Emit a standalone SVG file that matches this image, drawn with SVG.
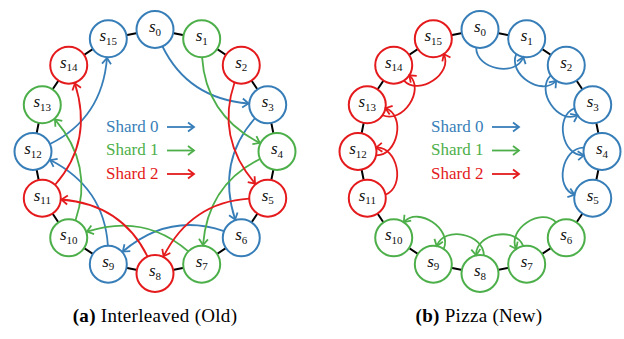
<svg xmlns="http://www.w3.org/2000/svg" width="624" height="339" viewBox="0 0 624 339">
<style>
.n{fill:#fff;stroke-width:2}
.b{stroke:#377eb8}.g{stroke:#4daf4a}.r{stroke:#e41a1c}
text{font-family:'Liberation Serif','DejaVu Serif',serif}
.lbl{font-size:17px;fill:#111;text-anchor:middle}
.lbl .s{font-style:italic}
.lbl .i{font-size:11px}
.e{fill:none;stroke-width:1.8}
.ring{fill:none;stroke:#000;stroke-width:2}
.leg{font-size:17px}
.cap{font-size:19px;letter-spacing:0.3px;fill:#000;text-anchor:middle}
</style>
<defs>
<marker id="mb" viewBox="-8 -6 10 12" refX="0" refY="0" markerWidth="10" markerHeight="12" orient="auto" markerUnits="userSpaceOnUse"><path d="M-6,-4.5 L0,0 L-6,4.5" fill="none" stroke="#377eb8" stroke-width="1.8"/></marker>
<marker id="mg" viewBox="-8 -6 10 12" refX="0" refY="0" markerWidth="10" markerHeight="12" orient="auto" markerUnits="userSpaceOnUse"><path d="M-6,-4.5 L0,0 L-6,4.5" fill="none" stroke="#4daf4a" stroke-width="1.8"/></marker>
<marker id="mr" viewBox="-8 -6 10 12" refX="0" refY="0" markerWidth="10" markerHeight="12" orient="auto" markerUnits="userSpaceOnUse"><path d="M-6,-4.5 L0,0 L-6,4.5" fill="none" stroke="#e41a1c" stroke-width="1.8"/></marker>
</defs>

<g id="ring-lines">
<polygon class="ring" points="155,29.5 201.69,38.79 241.27,65.23 267.71,104.81 277,151.5 267.71,198.19 241.27,237.77 201.69,264.21 155,273.5 108.31,264.21 68.73,237.77 42.29,198.19 33,151.5 42.29,104.81 68.73,65.23 108.31,38.79"/>
<polygon class="ring" points="480,29.5 526.69,38.79 566.27,65.23 592.71,104.81 602,151.5 592.71,198.19 566.27,237.77 526.69,264.21 480,273.5 433.31,264.21 393.73,237.77 367.29,198.19 358,151.5 367.29,104.81 393.73,65.23 433.31,38.79"/>
</g>

<g id="a-s0"><circle class="n b" cx="155" cy="29.5" r="18.5"/><text class="lbl" x="155" y="32"><tspan class="s">s</tspan><tspan class="i" dy="3.5">0</tspan></text></g>
<g id="a-s1"><circle class="n g" cx="201.69" cy="38.79" r="18.5"/><text class="lbl" x="201.69" y="41.3"><tspan class="s">s</tspan><tspan class="i" dy="3.5">1</tspan></text></g>
<g id="a-s2"><circle class="n r" cx="241.27" cy="65.23" r="18.5"/><text class="lbl" x="241.27" y="67.7"><tspan class="s">s</tspan><tspan class="i" dy="3.5">2</tspan></text></g>
<g id="a-s3"><circle class="n b" cx="267.71" cy="104.81" r="18.5"/><text class="lbl" x="267.71" y="107.3"><tspan class="s">s</tspan><tspan class="i" dy="3.5">3</tspan></text></g>
<g id="a-s4"><circle class="n g" cx="277" cy="151.5" r="18.5"/><text class="lbl" x="277" y="154"><tspan class="s">s</tspan><tspan class="i" dy="3.5">4</tspan></text></g>
<g id="a-s5"><circle class="n r" cx="267.71" cy="198.19" r="18.5"/><text class="lbl" x="267.71" y="200.7"><tspan class="s">s</tspan><tspan class="i" dy="3.5">5</tspan></text></g>
<g id="a-s6"><circle class="n b" cx="241.27" cy="237.77" r="18.5"/><text class="lbl" x="241.27" y="240.3"><tspan class="s">s</tspan><tspan class="i" dy="3.5">6</tspan></text></g>
<g id="a-s7"><circle class="n g" cx="201.69" cy="264.21" r="18.5"/><text class="lbl" x="201.69" y="266.7"><tspan class="s">s</tspan><tspan class="i" dy="3.5">7</tspan></text></g>
<g id="a-s8"><circle class="n r" cx="155" cy="273.5" r="18.5"/><text class="lbl" x="155" y="276"><tspan class="s">s</tspan><tspan class="i" dy="3.5">8</tspan></text></g>
<g id="a-s9"><circle class="n b" cx="108.31" cy="264.21" r="18.5"/><text class="lbl" x="108.31" y="266.7"><tspan class="s">s</tspan><tspan class="i" dy="3.5">9</tspan></text></g>
<g id="a-s10"><circle class="n g" cx="68.73" cy="237.77" r="18.5"/><text class="lbl" x="68.73" y="240.3"><tspan class="s">s</tspan><tspan class="i" dy="3.5">10</tspan></text></g>
<g id="a-s11"><circle class="n r" cx="42.29" cy="198.19" r="18.5"/><text class="lbl" x="42.29" y="200.7"><tspan class="s">s</tspan><tspan class="i" dy="3.5">11</tspan></text></g>
<g id="a-s12"><circle class="n b" cx="33" cy="151.5" r="18.5"/><text class="lbl" x="33" y="154"><tspan class="s">s</tspan><tspan class="i" dy="3.5">12</tspan></text></g>
<g id="a-s13"><circle class="n g" cx="42.29" cy="104.81" r="18.5"/><text class="lbl" x="42.29" y="107.3"><tspan class="s">s</tspan><tspan class="i" dy="3.5">13</tspan></text></g>
<g id="a-s14"><circle class="n r" cx="68.73" cy="65.23" r="18.5"/><text class="lbl" x="68.73" y="67.7"><tspan class="s">s</tspan><tspan class="i" dy="3.5">14</tspan></text></g>
<g id="a-s15"><circle class="n b" cx="108.31" cy="38.79" r="18.5"/><text class="lbl" x="108.31" y="41.3"><tspan class="s">s</tspan><tspan class="i" dy="3.5">15</tspan></text></g>

<g id="b-s0"><circle class="n b" cx="480" cy="29.5" r="18.5"/><text class="lbl" x="480" y="32"><tspan class="s">s</tspan><tspan class="i" dy="3.5">0</tspan></text></g>
<g id="b-s1"><circle class="n b" cx="526.69" cy="38.79" r="18.5"/><text class="lbl" x="526.69" y="41.3"><tspan class="s">s</tspan><tspan class="i" dy="3.5">1</tspan></text></g>
<g id="b-s2"><circle class="n b" cx="566.27" cy="65.23" r="18.5"/><text class="lbl" x="566.27" y="67.7"><tspan class="s">s</tspan><tspan class="i" dy="3.5">2</tspan></text></g>
<g id="b-s3"><circle class="n b" cx="592.71" cy="104.81" r="18.5"/><text class="lbl" x="592.71" y="107.3"><tspan class="s">s</tspan><tspan class="i" dy="3.5">3</tspan></text></g>
<g id="b-s4"><circle class="n b" cx="602" cy="151.5" r="18.5"/><text class="lbl" x="602" y="154"><tspan class="s">s</tspan><tspan class="i" dy="3.5">4</tspan></text></g>
<g id="b-s5"><circle class="n b" cx="592.71" cy="198.19" r="18.5"/><text class="lbl" x="592.71" y="200.7"><tspan class="s">s</tspan><tspan class="i" dy="3.5">5</tspan></text></g>
<g id="b-s6"><circle class="n g" cx="566.27" cy="237.77" r="18.5"/><text class="lbl" x="566.27" y="240.3"><tspan class="s">s</tspan><tspan class="i" dy="3.5">6</tspan></text></g>
<g id="b-s7"><circle class="n g" cx="526.69" cy="264.21" r="18.5"/><text class="lbl" x="526.69" y="266.7"><tspan class="s">s</tspan><tspan class="i" dy="3.5">7</tspan></text></g>
<g id="b-s8"><circle class="n g" cx="480" cy="273.5" r="18.5"/><text class="lbl" x="480" y="276"><tspan class="s">s</tspan><tspan class="i" dy="3.5">8</tspan></text></g>
<g id="b-s9"><circle class="n g" cx="433.31" cy="264.21" r="18.5"/><text class="lbl" x="433.31" y="266.7"><tspan class="s">s</tspan><tspan class="i" dy="3.5">9</tspan></text></g>
<g id="b-s10"><circle class="n g" cx="393.73" cy="237.77" r="18.5"/><text class="lbl" x="393.73" y="240.3"><tspan class="s">s</tspan><tspan class="i" dy="3.5">10</tspan></text></g>
<g id="b-s11"><circle class="n r" cx="367.29" cy="198.19" r="18.5"/><text class="lbl" x="367.29" y="200.7"><tspan class="s">s</tspan><tspan class="i" dy="3.5">11</tspan></text></g>
<g id="b-s12"><circle class="n r" cx="358" cy="151.5" r="18.5"/><text class="lbl" x="358" y="154"><tspan class="s">s</tspan><tspan class="i" dy="3.5">12</tspan></text></g>
<g id="b-s13"><circle class="n r" cx="367.29" cy="104.81" r="18.5"/><text class="lbl" x="367.29" y="107.3"><tspan class="s">s</tspan><tspan class="i" dy="3.5">13</tspan></text></g>
<g id="b-s14"><circle class="n r" cx="393.73" cy="65.23" r="18.5"/><text class="lbl" x="393.73" y="67.7"><tspan class="s">s</tspan><tspan class="i" dy="3.5">14</tspan></text></g>
<g id="b-s15"><circle class="n r" cx="433.31" cy="38.79" r="18.5"/><text class="lbl" x="433.31" y="41.3"><tspan class="s">s</tspan><tspan class="i" dy="3.5">15</tspan></text></g>

<g id="connectors">
<path class="e b" marker-end="url(#mb)" d="M162.5,46.5 C178,78 205,100 248.5,103.5"/>
<path class="e b" marker-end="url(#mb)" d="M162.5,46.5 C178,78 205,100 248.5,103.5" transform="rotate(67.5 155 151.5)"/>
<path class="e b" marker-end="url(#mb)" d="M162.5,46.5 C178,78 205,100 248.5,103.5" transform="rotate(135 155 151.5)"/>
<path class="e b" marker-end="url(#mb)" d="M162.5,46.5 C178,78 205,100 248.5,103.5" transform="rotate(202.5 155 151.5)"/>
<path class="e b" marker-end="url(#mb)" d="M162.5,46.5 C178,78 205,100 248.5,103.5" transform="rotate(270 155 151.5)"/>
<path class="e g" marker-end="url(#mg)" d="M162.5,46.5 C178,78 205,100 248.5,103.5" transform="rotate(22.5 155 151.5)"/>
<path class="e g" marker-end="url(#mg)" d="M162.5,46.5 C178,78 205,100 248.5,103.5" transform="rotate(90 155 151.5)"/>
<path class="e g" marker-end="url(#mg)" d="M162.5,46.5 C178,78 205,100 248.5,103.5" transform="rotate(157.5 155 151.5)"/>
<path class="e g" marker-end="url(#mg)" d="M162.5,46.5 C178,78 205,100 248.5,103.5" transform="rotate(225 155 151.5)"/>
<path class="e r" marker-end="url(#mr)" d="M162.5,46.5 C178,78 205,100 248.5,103.5" transform="rotate(45 155 151.5)"/>
<path class="e r" marker-end="url(#mr)" d="M162.5,46.5 C178,78 205,100 248.5,103.5" transform="rotate(112.5 155 151.5)"/>
<path class="e r" marker-end="url(#mr)" d="M162.5,46.5 C178,78 205,100 248.5,103.5" transform="rotate(180 155 151.5)"/>
<path class="e r" marker-end="url(#mr)" d="M162.5,46.5 C178,78 205,100 248.5,103.5" transform="rotate(247.5 155 151.5)"/>
<path class="e b" marker-end="url(#mb)" d="M476.2,47.6 C475.9,69.5 516.2,77.5 523.3,57"/>
<path class="e b" marker-end="url(#mb)" d="M476.2,47.6 C475.9,69.5 516.2,77.5 523.3,57" transform="rotate(22.5 480 151.5)"/>
<path class="e b" marker-end="url(#mb)" d="M476.2,47.6 C475.9,69.5 516.2,77.5 523.3,57" transform="rotate(45 480 151.5)"/>
<path class="e b" marker-end="url(#mb)" d="M476.2,47.6 C475.9,69.5 516.2,77.5 523.3,57" transform="rotate(67.5 480 151.5)"/>
<path class="e b" marker-end="url(#mb)" d="M476.2,47.6 C475.9,69.5 516.2,77.5 523.3,57" transform="rotate(90 480 151.5)"/>
<path class="e g" marker-end="url(#mg)" d="M476.2,47.6 C475.9,69.5 516.2,77.5 523.3,57" transform="rotate(135 480 151.5)"/>
<path class="e g" marker-end="url(#mg)" d="M476.2,47.6 C475.9,69.5 516.2,77.5 523.3,57" transform="rotate(157.5 480 151.5)"/>
<path class="e g" marker-end="url(#mg)" d="M476.2,47.6 C475.9,69.5 516.2,77.5 523.3,57" transform="rotate(180 480 151.5)"/>
<path class="e g" marker-end="url(#mg)" d="M476.2,47.6 C475.9,69.5 516.2,77.5 523.3,57" transform="rotate(202.5 480 151.5)"/>
<path class="e r" marker-end="url(#mr)" d="M476.2,47.6 C475.9,69.5 516.2,77.5 523.3,57" transform="rotate(247.5 480 151.5)"/>
<path class="e r" marker-end="url(#mr)" d="M476.2,47.6 C475.9,69.5 516.2,77.5 523.3,57" transform="rotate(270 480 151.5)"/>
<path class="e r" marker-end="url(#mr)" d="M476.2,47.6 C475.9,69.5 516.2,77.5 523.3,57" transform="rotate(292.5 480 151.5)"/>
<path class="e r" marker-end="url(#mr)" d="M476.2,47.6 C475.9,69.5 516.2,77.5 523.3,57" transform="rotate(315 480 151.5)"/>
</g>

<g id="legend-a">
<text class="leg" x="106" y="131.7" fill="#377eb8">Shard 0</text>
<text class="leg" x="106" y="155.2" fill="#4daf4a">Shard 1</text>
<text class="leg" x="106" y="178.7" fill="#e41a1c">Shard 2</text>
<path class="e b" marker-end="url(#mb)" d="M167,127 H194"/>
<path class="e g" marker-end="url(#mg)" d="M167,150.5 H194"/>
<path class="e r" marker-end="url(#mr)" d="M167,174 H194"/>
</g>
<g id="legend-b">
<text class="leg" x="431" y="131.7" fill="#377eb8">Shard 0</text>
<text class="leg" x="431" y="155.2" fill="#4daf4a">Shard 1</text>
<text class="leg" x="431" y="178.7" fill="#e41a1c">Shard 2</text>
<path class="e b" marker-end="url(#mb)" d="M492,127 H519"/>
<path class="e g" marker-end="url(#mg)" d="M492,150.5 H519"/>
<path class="e r" marker-end="url(#mr)" d="M492,174 H519"/>
</g>

<g id="captions">
<text class="cap" x="155" y="322"><tspan font-weight="bold">(a)</tspan> Interleaved (Old)</text>
<text class="cap" x="479" y="322"><tspan font-weight="bold">(b)</tspan> Pizza (New)</text>
</g>
</svg>
